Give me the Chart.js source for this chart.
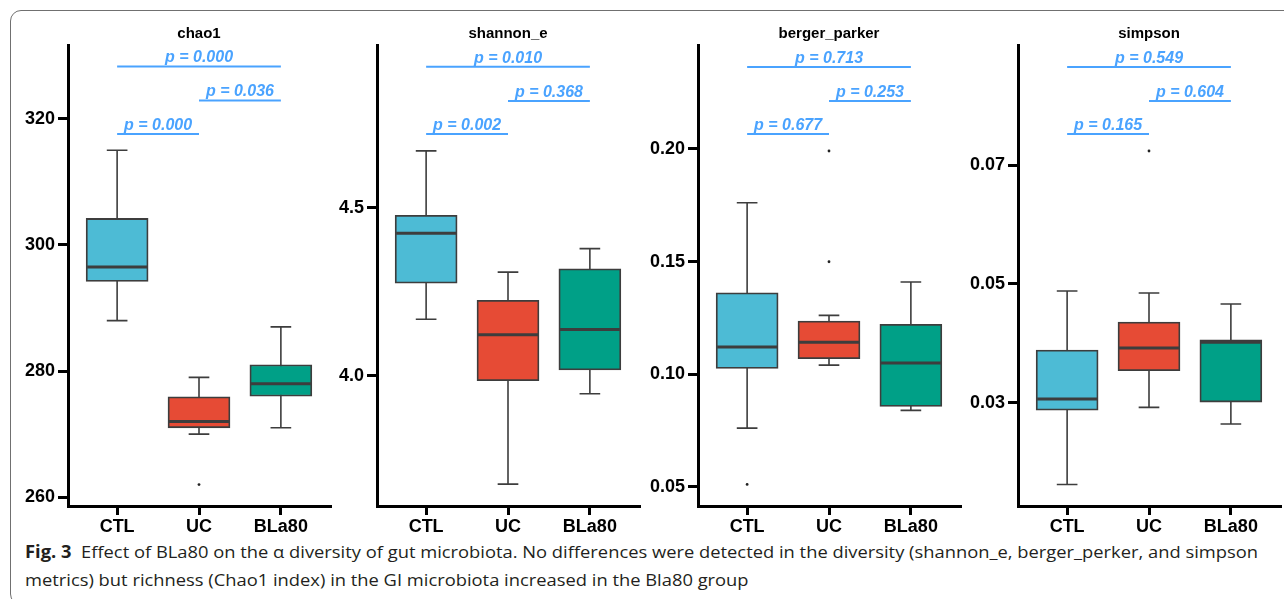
<!DOCTYPE html>
<html>
<head>
<meta charset="utf-8">
<script src="https://cdn.jsdelivr.net/npm/chart.js@4.4.1/dist/chart.umd.min.js"></script>
<style>
  html, body { margin: 0; padding: 0; background: #fff; }
  body { width: 1284px; height: 599px; position: relative; overflow: hidden; }
  .frame { position: absolute; left: 10px; top: 10px; width: 1400px; height: 595px; border: 1px solid #707070; border-radius: 11px; box-sizing: border-box; }
  canvas.panel { position: absolute; top: 15px; }
  .caption { position: absolute; left: 25px; top: 538px; font-family: 'Open Sans', 'Noto Sans', sans-serif; font-size: 17px; line-height: 28px; color: #231f20; white-space: nowrap; }
  .caption div { transform-origin: left center; }
</style>
</head>
<body>
<div class="frame"></div>
<canvas class="panel" id="p0" width="330" height="521"></canvas>
<canvas class="panel" id="p1" width="330" height="521"></canvas>
<canvas class="panel" id="p2" width="330" height="521"></canvas>
<canvas class="panel" id="p3" width="330" height="521"></canvas>
<div class="caption">
  <div id="cap1"><b>Fig. 3</b>&nbsp; Effect of BLa80 on the α diversity of gut microbiota. No differences were detected in the diversity (shannon_e, berger_perker, and simpson</div>
  <div id="cap2">metrics) but richness (Chao1 index) in the GI microbiota increased in the Bla80 group</div>
</div>
<script>
const groups = ['CTL', 'UC', 'BLa80'];
// comparisons drawn as brackets: CTL-UC, UC-BLa80, CTL-BLa80
const pairs = [[0, 1], [1, 2], [0, 2]];

// each box: [lower whisker, Q1, median, Q3, upper whisker]
const chao1Box = [[288, 294.2, 296.5, 304.2, 315], [270, 271, 272, 275.9, 279], [271, 276, 278, 281, 287]];
const chao1Outliers = [[], [262], []];
const chao1Ticks = [260, 280, 300, 320];
const chao1TickLabels = ['260', '280', '300', '320'];
const chao1Range = [258.6, 331.7];
const chao1P = ['p = 0.000', 'p = 0.036', 'p = 0.000'];
const chao1Levels = [317.6, 322.9, 328.3];

const shannonBox = [[4.169, 4.276, 4.425, 4.478, 4.670], [3.678, 3.986, 4.123, 4.225, 4.309], [3.947, 4.018, 4.138, 4.319, 4.379]];
const shannonOutliers = [[], [], []];
const shannonTicks = [4.0, 4.5];
const shannonTickLabels = ['4.0', '4.5'];
const shannonRange = [3.613, 4.985];
const shannonP = ['p = 0.002', 'p = 0.368', 'p = 0.010'];
const shannonLevels = [4.720, 4.818, 4.920];

const bergerBox = [[0.0760, 0.1025, 0.1120, 0.1361, 0.1761], [0.1040, 0.1068, 0.1141, 0.1236, 0.1261], [0.0839, 0.0856, 0.1049, 0.1221, 0.1409]];
const bergerOutliers = [[0.0510], [0.1991, 0.1499], []];
const bergerTicks = [0.05, 0.10, 0.15, 0.20];
const bergerTickLabels = ['0.05', '0.10', '0.15', '0.20'];
const bergerRange = [0.0414, 0.2462];
const bergerP = ['p = 0.677', 'p = 0.253', 'p = 0.713'];
const bergerLevels = [0.2067, 0.2213, 0.2364];

const simpsonBox = [[0.01624, 0.02875, 0.03061, 0.03886, 0.04879], [0.02921, 0.03537, 0.03919, 0.04357, 0.04845], [0.02640, 0.03010, 0.04015, 0.04059, 0.04660]];
const simpsonOutliers = [[], [0.07236], []];
const simpsonTicks = [0.03, 0.05, 0.07];
const simpsonTickLabels = ['0.03', '0.05', '0.07'];
const simpsonRange = [0.01261, 0.0902];
const simpsonP = ['p = 0.165', 'p = 0.604', 'p = 0.549'];
const simpsonLevels = [0.07522, 0.08077, 0.0865];

const panels = [
  { title: 'chao1', box: chao1Box, outliers: chao1Outliers, ticks: chao1Ticks, tickLabels: chao1TickLabels, range: chao1Range, p: chao1P, levels: chao1Levels },
  { title: 'shannon_e', box: shannonBox, outliers: shannonOutliers, ticks: shannonTicks, tickLabels: shannonTickLabels, range: shannonRange, p: shannonP, levels: shannonLevels },
  { title: 'berger_parker', box: bergerBox, outliers: bergerOutliers, ticks: bergerTicks, tickLabels: bergerTickLabels, range: bergerRange, p: bergerP, levels: bergerLevels },
  { title: 'simpson', box: simpsonBox, outliers: simpsonOutliers, ticks: simpsonTicks, tickLabels: simpsonTickLabels, range: simpsonRange, p: simpsonP, levels: simpsonLevels },
];

const fills = ['#4dbbd5', '#e64b35', '#00a087'];
const axisLeft = [68, 377, 698, 1018];
const yAxisWidth = 62;
const font = '"Liberation Sans", Arial, sans-serif';
const lineColor = '#3d3d3d';
const pColor = '#4aa3ff';

const boxPlugin = (panel) => ({
  id: 'boxParts',
  beforeDatasetsDraw(chart) {
    const { ctx } = chart;
    const y = chart.scales.y;
    const bars = chart.getDatasetMeta(0).data;
    ctx.save();
    ctx.strokeStyle = lineColor;
    ctx.lineWidth = 1.6;
    panel.box.forEach((s, i) => {
      const x = bars[i].x, cap = bars[i].width / 6;
      const lo = y.getPixelForValue(s[0]), hi = y.getPixelForValue(s[4]);
      ctx.beginPath();
      ctx.moveTo(x, lo); ctx.lineTo(x, hi);
      ctx.moveTo(x - cap, lo); ctx.lineTo(x + cap, lo);
      ctx.moveTo(x - cap, hi); ctx.lineTo(x + cap, hi);
      ctx.stroke();
    });
    ctx.restore();
  },
  afterDatasetsDraw(chart) {
    const { ctx } = chart;
    const x = chart.scales.x, y = chart.scales.y;
    const bars = chart.getDatasetMeta(0).data;
    ctx.save();
    // medians
    ctx.strokeStyle = lineColor;
    ctx.lineWidth = 3;
    panel.box.forEach((s, i) => {
      const m = y.getPixelForValue(s[2]);
      const half = bars[i].width / 2 - 1;
      ctx.beginPath();
      ctx.moveTo(bars[i].x - half, m);
      ctx.lineTo(bars[i].x + half, m);
      ctx.stroke();
    });
    // significance brackets
    ctx.strokeStyle = pColor;
    ctx.fillStyle = pColor;
    ctx.lineWidth = 2;
    ctx.font = 'italic bold 16px ' + font;
    ctx.textAlign = 'center';
    ctx.textBaseline = 'alphabetic';
    pairs.forEach((pr, k) => {
      const x1 = x.getPixelForValue(pr[0]), x2 = x.getPixelForValue(pr[1]);
      const ly = y.getPixelForValue(panel.levels[k]);
      ctx.beginPath();
      ctx.moveTo(x1, ly); ctx.lineTo(x2, ly);
      ctx.stroke();
      ctx.fillText(panel.p[k], (x1 + x2) / 2, ly - 4);
    });
    ctx.restore();
  }
});

panels.forEach((panel, idx) => {
  const canvas = document.getElementById('p' + idx);
  canvas.style.left = (axisLeft[idx] - yAxisWidth) + 'px';

  const outlierPoints = [];
  panel.outliers.forEach((vals, i) => vals.forEach(v => outlierPoints.push({ x: i, y: v })));

  new Chart(canvas, {
    type: 'bar',
    data: {
      datasets: [
        {
          type: 'bar',
          data: panel.box.map((s, i) => ({ x: i, y: [s[1], s[3]] })),
          backgroundColor: fills,
          borderColor: lineColor,
          borderWidth: 1.8,
          borderSkipped: false,
          barThickness: 62,
          grouped: false,
        },
        {
          type: 'scatter',
          data: outlierPoints,
          pointRadius: 1.4,
          pointBackgroundColor: '#222',
          pointBorderWidth: 0,
        },
      ],
    },
    options: {
      responsive: false,
      animation: false,
      events: [],
      layout: { padding: { left: 0, right: 6, top: 0, bottom: 0 } },
      plugins: {
        legend: { display: false },
        tooltip: { enabled: false },
        title: {
          display: true,
          fullSize: false,
          text: panel.title,
          color: '#000',
          font: { family: font, size: 15, weight: 'bold' },
          padding: { top: 10, bottom: 2 },
        },
      },
      scales: {
        x: {
          type: 'linear',
          min: -0.6,
          max: 2.6,
          offset: false,
          bounds: 'data',
          afterBuildTicks: (s) => { s.ticks = groups.map((g, i) => ({ value: i })); },
          afterFit: (s) => { s.height = 30; },
          ticks: {
            callback: (v) => groups[v],
            color: '#000',
            font: { family: font, size: 18, weight: 'bold' },
            padding: 1,
            maxRotation: 0,
            autoSkip: false,
          },
          grid: { drawOnChartArea: false, drawTicks: true, tickLength: 9, lineWidth: 3, color: '#000', offset: false },
          border: { color: '#000', width: 3 },
        },
        y: {
          type: 'linear',
          min: panel.range[0],
          max: panel.range[1],
          bounds: 'data',
          afterBuildTicks: (s) => { s.ticks = panel.ticks.map(v => ({ value: v })); },
          afterFit: (s) => { s.width = yAxisWidth; },
          ticks: {
            callback: (v, i) => panel.tickLabels[i],
            color: '#000',
            font: { family: font, size: 18, weight: 'bold' },
            padding: 3,
          },
          grid: { drawOnChartArea: false, drawTicks: true, tickLength: 10, lineWidth: 3, color: '#000' },
          border: { color: '#000', width: 3 },
        },
      },
    },
    plugins: [boxPlugin(panel)],
  });
});

// fit caption lines to the width they take in the figure
const cap1 = document.getElementById('cap1');
const cap2 = document.getElementById('cap2');
const k = 1233 / cap1.getBoundingClientRect().width;
cap1.style.transform = 'scaleX(' + k + ')';
cap2.style.transform = 'scaleX(' + k + ')';
</script>
</body>
</html>
